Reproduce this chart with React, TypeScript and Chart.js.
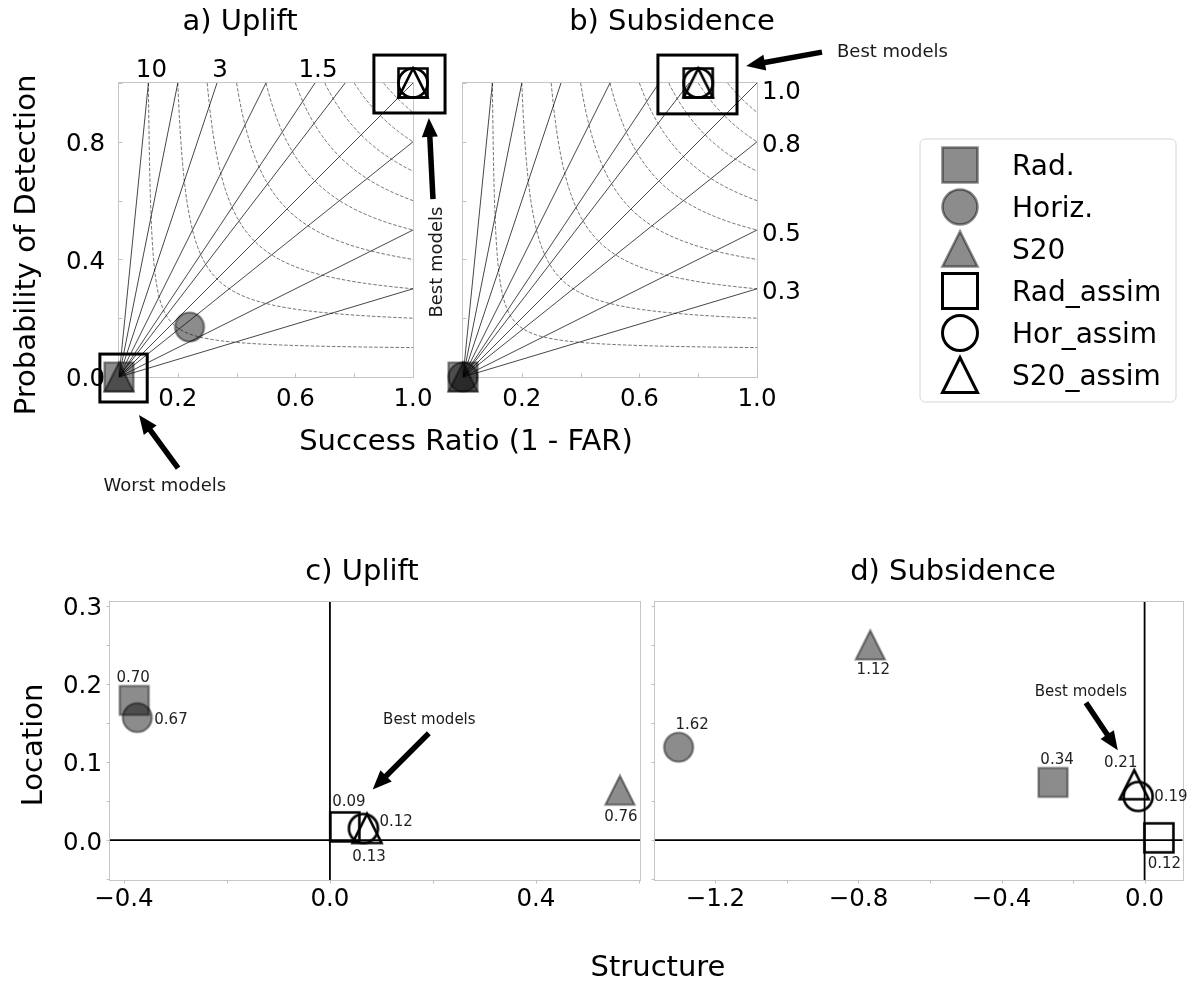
import React, { useEffect, useRef } from 'react';
import { Chart, registerables } from 'chart.js';

Chart.register(...registerables);

const FONT = '"DejaVu Sans", "Liberation Sans", Arial, sans-serif';
const PAGE_W = 1198;
const PAGE_H = 983;

// ---------------- data ----------------
const seriesNames = ['Rad.', 'Horiz.', 'S20', 'Rad_assim', 'Hor_assim', 'S20_assim'];

const biasLevels = [0.3, 0.5, 0.8, 1.0, 1.3, 1.5, 2.0, 3.0, 5.0, 10.0];
const csiLevels = [0.1, 0.2, 0.3, 0.4, 0.5, 0.6, 0.7, 0.8, 0.9];
const biasTopLabels = [10, 3, 1.5];
const biasTopLabelText = ['10', '3', '1.5'];
const biasRightLabels = [1.0, 0.8, 0.5, 0.3];
const biasRightLabelText = ['1.0', '0.8', '0.5', '0.3'];

// a) Uplift performance diagram (success ratio, probability of detection)
const upliftSR = [0.0, 0.24, 0.0, 1.0, 1.0, 1.0];
const upliftPOD = [0.0, 0.17, 0.0, 1.0, 1.0, 1.0];
// b) Subsidence performance diagram
const subsSR = [0.0, 0.0, 0.0, 0.8, 0.8, 0.8];
const subsPOD = [0.0, 0.0, 0.0, 1.0, 1.0, 1.0];

// c) Uplift structure / location
const upliftStructure = [-0.38, -0.374, 0.563, 0.029, 0.065, 0.072];
const upliftLocation = [0.179, 0.157, 0.064, 0.017, 0.015, 0.015];
const upliftScores = ['0.70', '0.67', '0.76', '0.09', '0.12', '0.13'];
// d) Subsidence structure / location
const subsStructure = [-0.256, -1.303, -0.767, 0.04, -0.018, -0.029];
const subsLocation = [0.074, 0.119, 0.25, 0.003, 0.056, 0.071];
const subsScores = ['0.34', '1.62', '1.12', '0.12', '0.19', '0.21'];

// ticks
const perfTicks = [0, 0.2, 0.4, 0.6, 0.8, 1.0];
const perfXLabeled = [0.2, 0.6, 1.0];
const perfYLabeled = [0.0, 0.4, 0.8];
const locTicks = [-0.05, 0, 0.05, 0.1, 0.15, 0.2, 0.25, 0.3];
const locLabeled = [0, 0.1, 0.2, 0.3];
const structTicksC = [-0.4, -0.2, 0, 0.2, 0.4, 0.6];
const structLabeledC = [-0.4, 0, 0.4];
const structTicksD = [-1.2, -1.0, -0.8, -0.6, -0.4, -0.2, 0];
const structLabeledD = [-1.2, -0.8, -0.4, 0];

// ---------------- styles ----------------
const markerShapes = ['square', 'circle', 'triangle', 'square', 'circle', 'triangle'];
const markerFilled = [true, true, true, false, false, false];
const GRAY_FILL = 'rgba(0,0,0,0.45)';
const GRAY_EDGE = 'rgba(0,0,0,0.45)';
const upliftLabelOffsets: [number, number, CanvasTextAlign][] = [
  [-1, -24, 'center'], [17, 1, 'left'], [1, 25, 'center'],
  [4, -26, 'center'], [16, -8, 'left'], [2, 27, 'center'],
];
const subsLabelOffsets: [number, number, CanvasTextAlign][] = [
  [4, -23.5, 'center'], [13.5, -24, 'center'], [3, 23.5, 'center'],
  [5.5, 24.5, 'center'], [16, -1, 'left'], [-13.5, -23, 'center'],
];
const rightLabelDy = [7, 1, 2, 1];

const YW = 60;
const XH = 40;
const TICK_FONT = 24.5;

function fmt(v: number) {
  return (v < -1e-9 ? '\u2212' : '') + Math.abs(v).toFixed(1);
}

function makeMarker(shape: string, filled: boolean, size: number, lw: number) {
  const pad = Math.ceil(lw * 3) + 2;
  let dim = Math.ceil(size) + pad * 2;
  if (dim % 2) dim += 1;
  const c = document.createElement('canvas');
  c.width = dim;
  c.height = dim;
  const g = c.getContext('2d')!;
  const m = dim / 2;
  const h = size / 2;
  g.beginPath();
  if (shape === 'square') g.rect(m - h, m - h, size, size);
  else if (shape === 'circle') g.arc(m, m, h, 0, Math.PI * 2);
  else {
    g.moveTo(m, m - h);
    g.lineTo(m - h, m + h);
    g.lineTo(m + h, m + h);
    g.closePath();
  }
  g.lineJoin = 'miter';
  g.miterLimit = 10;
  g.lineWidth = lw;
  if (filled) {
    g.fillStyle = GRAY_FILL;
    g.fill();
    g.strokeStyle = GRAY_EDGE;
    g.stroke();
  } else {
    g.strokeStyle = '#000';
    g.stroke();
  }
  return c;
}

function markerDatasets(xs: number[], ys: number[]) {
  return seriesNames.map((name, i) => ({
    label: name,
    data: [{ x: xs[i], y: ys[i] }],
    pointStyle: makeMarker(markerShapes[i], markerFilled[i], 29, markerFilled[i] ? 2.2 : 2.6),
    pointRadius: 14.5,
    pointHoverRadius: 14.5,
    showLine: false,
    clip: false as any,
  }));
}

function biasDatasets() {
  return biasLevels.map((b) => ({
    label: 'bias ' + b,
    data: [
      { x: 0, y: 0 },
      { x: b > 1 ? 1 / b : 1, y: b > 1 ? 1 : b },
    ],
    showLine: true,
    borderColor: 'rgba(0,0,0,0.72)',
    borderWidth: 1,
    pointRadius: 0,
    pointHoverRadius: 0,
  }));
}

function csiCurve(c: number) {
  const p = (2 * c) / (1 + c);
  const half: { x: number; y: number }[] = [];
  const N = 60;
  for (let k = 0; k <= N; k++) {
    const sr = p + ((1 - p) * k) / N;
    const pod = 1 / (1 / c + 1 - 1 / sr);
    half.push({ x: sr, y: pod });
  }
  const mirrored = half.map((m) => ({ x: m.y, y: m.x })).reverse();
  return [...mirrored, ...half.slice(1)];
}

function csiDatasets() {
  return csiLevels.map((c) => ({
    label: 'csi ' + c,
    data: csiCurve(c),
    showLine: true,
    borderColor: 'rgba(0,0,0,0.62)',
    borderWidth: 0.9,
    borderDash: [3.5, 1.8],
    pointRadius: 0,
    pointHoverRadius: 0,
  }));
}

function axis(min: number, max: number, ticks: number[], labeled: number[], pad: number, isX: boolean) {
  return {
    type: 'linear' as const,
    min,
    max,
    position: isX ? 'bottom' : 'left',
    afterBuildTicks: (s: any) => {
      s.ticks = ticks.map((v) => ({ value: v }));
    },
    afterFit: (s: any) => {
      if (isX) s.height = XH;
      else s.width = YW;
    },
    ticks: {
      autoSkip: false,
      maxRotation: 0,
      minRotation: 0,
      padding: pad,
      labelOffset: isX ? 0 : 3,
      color: '#000',
      font: { family: FONT, size: TICK_FONT, lineHeight: 1 },
      callback: (v: any) => (labeled.some((l) => Math.abs(l - Number(v)) < 1e-9) ? fmt(Number(v)) : ''),
    },
    grid: { display: false, drawTicks: false },
    border: { display: false },
  };
}

function txt(
  ctx: CanvasRenderingContext2D, s: string, x: number, y: number, size: number,
  align: CanvasTextAlign = 'center', rot = 0, color = '#000',
) {
  ctx.save();
  ctx.translate(x, y);
  if (rot) ctx.rotate(rot);
  ctx.font = `${size}px ${FONT}`;
  ctx.fillStyle = color;
  ctx.textAlign = align;
  ctx.textBaseline = 'middle';
  ctx.fillText(s, 0, size * 0.1);
  ctx.restore();
}

function box(ctx: CanvasRenderingContext2D, x1: number, y1: number, x2: number, y2: number) {
  ctx.save();
  ctx.strokeStyle = '#000';
  ctx.lineWidth = 3;
  ctx.lineJoin = 'miter';
  ctx.strokeRect(Math.min(x1, x2), Math.min(y1, y2), Math.abs(x2 - x1), Math.abs(y2 - y1));
  ctx.restore();
}

function arrow(ctx: CanvasRenderingContext2D, x1: number, y1: number, x2: number, y2: number, shaftW = 5.5, headW = 16, headL = 19) {
  const dx = x2 - x1, dy = y2 - y1;
  const len = Math.hypot(dx, dy);
  const ux = dx / len, uy = dy / len;
  const nx = -uy, ny = ux;
  const bx = x2 - ux * headL, by = y2 - uy * headL;
  ctx.save();
  ctx.beginPath();
  ctx.moveTo(x1 + (nx * shaftW) / 2, y1 + (ny * shaftW) / 2);
  ctx.lineTo(bx + (nx * shaftW) / 2, by + (ny * shaftW) / 2);
  ctx.lineTo(bx + (nx * headW) / 2, by + (ny * headW) / 2);
  ctx.lineTo(x2, y2);
  ctx.lineTo(bx - (nx * headW) / 2, by - (ny * headW) / 2);
  ctx.lineTo(bx - (nx * shaftW) / 2, by - (ny * shaftW) / 2);
  ctx.lineTo(x1 - (nx * shaftW) / 2, y1 - (ny * shaftW) / 2);
  ctx.closePath();
  ctx.fillStyle = '#000';
  ctx.fill();
  ctx.restore();
}

function frameAndTicks(chart: any, inward: boolean) {
  const { ctx, chartArea: a, scales } = chart;
  const x = scales.x, y = scales.y;
  ctx.save();
  ctx.strokeStyle = '#c6c6c6';
  ctx.lineWidth = 1;
  ctx.strokeRect(Math.round(a.left) - 0.5, Math.round(a.top) - 0.5, Math.round(a.width) + 1, Math.round(a.height) + 1);
  const len = 3.5;
  ctx.strokeStyle = '#c0c0c0';
  x.ticks.forEach((t: any) => {
    const px = Math.round(x.getPixelForValue(t.value)) + 0.5;
    ctx.beginPath();
    ctx.moveTo(px, a.bottom);
    ctx.lineTo(px, inward ? a.bottom - len : a.bottom + len);
    ctx.stroke();
  });
  y.ticks.forEach((t: any) => {
    const py = Math.round(y.getPixelForValue(t.value)) + 0.5;
    ctx.beginPath();
    ctx.moveTo(a.left, py);
    ctx.lineTo(inward ? a.left + len : a.left - len, py);
    ctx.stroke();
  });
  ctx.restore();
}

function zeroLines(chart: any) {
  const { ctx, chartArea: a, scales } = chart;
  const X0 = scales.x.getPixelForValue(0);
  const Y0 = scales.y.getPixelForValue(0);
  ctx.save();
  ctx.strokeStyle = '#000';
  ctx.lineWidth = 1.8;
  ctx.beginPath();
  ctx.moveTo(a.left, Y0);
  ctx.lineTo(a.right, Y0);
  ctx.moveTo(X0, a.top);
  ctx.lineTo(X0, a.bottom);
  ctx.stroke();
  ctx.restore();
}

function drawLegend(ctx: CanvasRenderingContext2D) {
  const L = 920, T = 139, R = 1176, B = 402, r = 5;
  ctx.save();
  ctx.beginPath();
  ctx.moveTo(L + r, T);
  ctx.lineTo(R - r, T);
  ctx.arcTo(R, T, R, T + r, r);
  ctx.lineTo(R, B - r);
  ctx.arcTo(R, B, R - r, B, r);
  ctx.lineTo(L + r, B);
  ctx.arcTo(L, B, L, B - r, r);
  ctx.lineTo(L, T + r);
  ctx.arcTo(L, T, L + r, T, r);
  ctx.closePath();
  ctx.fillStyle = 'rgba(255,255,255,0.8)';
  ctx.fill();
  ctx.strokeStyle = '#d6d6d6';
  ctx.lineWidth = 1;
  ctx.stroke();
  ctx.restore();
  seriesNames.forEach((name, i) => {
    const cy = 165 + i * 42;
    const m = makeMarker(markerShapes[i], markerFilled[i], 35, markerFilled[i] ? 2.6 : 3);
    ctx.drawImage(m, 960 - m.width / 2, cy - m.height / 2);
    txt(ctx, name, 1012, cy, 28, 'left');
  });
}

function padFor(area: { left: number; top: number; right: number; bottom: number }) {
  return {
    left: area.left - YW,
    top: area.top,
    right: PAGE_W - area.right,
    bottom: PAGE_H - area.bottom - XH,
  };
}

function baseOptions(area: any, scales: any) {
  return {
    animation: false as const,
    responsive: false,
    devicePixelRatio: 1,
    events: [] as any[],
    layout: { padding: padFor(area) },
    plugins: { legend: { display: false }, tooltip: { enabled: false }, title: { display: false } },
    scales,
  };
}

function configA(): any {
  const area = { left: 119, top: 83, right: 413, bottom: 377 };
  return {
    type: 'scatter',
    data: { datasets: [...markerDatasets(upliftSR, upliftPOD), ...biasDatasets(), ...csiDatasets()] },
    options: baseOptions(area, {
      x: axis(0, 1, perfTicks, perfXLabeled, 10, true),
      y: axis(0, 1, perfTicks, perfYLabeled, 14, false),
    }),
    plugins: [
      {
        id: 'panelA',
        beforeDatasetsDraw: (chart: any) => frameAndTicks(chart, true),
        afterDraw: (chart: any) => {
          const { ctx, scales } = chart;
          const X = (v: number) => scales.x.getPixelForValue(v);
          const Y = (v: number) => scales.y.getPixelForValue(v);
          box(ctx, X(-0.065), Y(0.078), X(0.096), Y(-0.085));
          box(ctx, X(0.867), Y(1.095), X(1.109), Y(0.898));
          arrow(ctx, X(1.068), Y(0.605), X(1.054), Y(0.881));
          arrow(ctx, X(0.201), Y(-0.31), X(0.068), Y(-0.129));
          txt(ctx, 'Best models', X(1.078), Y(0.391), 18, 'center', -Math.PI / 2, '#1a1a1a');
          txt(ctx, 'Worst models', X(0.156), Y(-0.367), 18, 'center', 0, '#1a1a1a');
          biasTopLabels.forEach((b, i) => txt(ctx, biasTopLabelText[i], X(1 / b) + 3, Y(1.051), TICK_FONT));
          txt(ctx, 'a) Uplift', 240, 20, 29);
          txt(ctx, 'Probability of Detection', 25, 245, 29, 'center', -Math.PI / 2);
          txt(ctx, 'Success Ratio (1 - FAR)', 466, 440, 29);
        },
      },
    ],
  };
}

function configB(): any {
  const area = { left: 463, top: 83, right: 757, bottom: 377 };
  return {
    type: 'scatter',
    data: { datasets: [...markerDatasets(subsSR, subsPOD), ...biasDatasets(), ...csiDatasets()] },
    options: baseOptions(area, {
      x: axis(0, 1, perfTicks, perfXLabeled, 10, true),
      y: axis(0, 1, perfTicks, [], 14, false),
    }),
    plugins: [
      {
        id: 'panelB',
        beforeDatasetsDraw: (chart: any) => frameAndTicks(chart, true),
        afterDraw: (chart: any) => {
          const { ctx, scales } = chart;
          const X = (v: number) => scales.x.getPixelForValue(v);
          const Y = (v: number) => scales.y.getPixelForValue(v);
          box(ctx, X(0.663), Y(1.095), X(0.932), Y(0.895));
          arrow(ctx, X(1.221), Y(1.105), X(0.963), Y(1.058));
          txt(ctx, 'Best models', X(1.272), Y(1.109), 18, 'left', 0, '#1a1a1a');
          biasRightLabels.forEach((b, i) => txt(ctx, biasRightLabelText[i], X(1.017), Y(b) + rightLabelDy[i], TICK_FONT, 'left'));
          txt(ctx, 'b) Subsidence', 672, 20, 29);
          drawLegend(ctx);
        },
      },
    ],
  };
}

function valueLabels(chart: any, xs: number[], ys: number[], labels: string[], offsets: [number, number, CanvasTextAlign][]) {
  const { ctx, scales } = chart;
  labels.forEach((s, i) => {
    const px = scales.x.getPixelForValue(xs[i]) + offsets[i][0];
    const py = scales.y.getPixelForValue(ys[i]) + offsets[i][1];
    txt(ctx, s, px, py, 15, offsets[i][2], 0, '#222');
  });
}

function configC(): any {
  const area = { left: 110, top: 602, right: 640, bottom: 880 };
  return {
    type: 'scatter',
    data: { datasets: markerDatasets(upliftStructure, upliftLocation) },
    options: baseOptions(area, {
      x: axis(-0.427, 0.602, structTicksC, structLabeledC, 7, true),
      y: axis(-0.051, 0.305, locTicks, locLabeled, 8, false),
    }),
    plugins: [
      {
        id: 'panelC',
        beforeDatasetsDraw: (chart: any) => {
          frameAndTicks(chart, false);
          zeroLines(chart);
        },
        afterDraw: (chart: any) => {
          const { ctx, scales } = chart;
          const X = (v: number) => scales.x.getPixelForValue(v);
          const Y = (v: number) => scales.y.getPixelForValue(v);
          valueLabels(chart, upliftStructure, upliftLocation, upliftScores, upliftLabelOffsets);
          arrow(ctx, X(0.192), Y(0.137), X(0.083), Y(0.065));
          txt(ctx, 'Best models', X(0.193), Y(0.156), 15, 'center', 0, '#1a1a1a');
          txt(ctx, 'c) Uplift', 362, 570, 29);
          txt(ctx, 'Location', 32, 745, 29, 'center', -Math.PI / 2);
          txt(ctx, 'Structure', 658, 966, 29);
        },
      },
    ],
  };
}

function configD(): any {
  const area = { left: 655, top: 602, right: 1186, bottom: 880 };
  return {
    type: 'scatter',
    data: { datasets: markerDatasets(subsStructure, subsLocation) },
    options: baseOptions(area, {
      x: axis(-1.369, 0.106, structTicksD, structLabeledD, 7, true),
      y: axis(-0.051, 0.305, locTicks, [], 8, false),
    }),
    plugins: [
      {
        id: 'panelD',
        beforeDatasetsDraw: (chart: any) => {
          frameAndTicks(chart, false);
          zeroLines(chart);
        },
        afterDraw: (chart: any) => {
          const { ctx, scales } = chart;
          const X = (v: number) => scales.x.getPixelForValue(v);
          const Y = (v: number) => scales.y.getPixelForValue(v);
          valueLabels(chart, subsStructure, subsLocation, subsScores, subsLabelOffsets);
          arrow(ctx, X(-0.164), Y(0.176), X(-0.075), Y(0.115));
          txt(ctx, 'Best models', X(-0.178), Y(0.192), 15, 'center', 0, '#1a1a1a');
          txt(ctx, 'd) Subsidence', 953, 570, 29);
        },
      },
    ],
  };
}

export default function App() {
  const r1 = useRef<HTMLCanvasElement>(null);
  const r2 = useRef<HTMLCanvasElement>(null);
  const r3 = useRef<HTMLCanvasElement>(null);
  const r4 = useRef<HTMLCanvasElement>(null);
  const refs = [r1, r2, r3, r4];

  useEffect(() => {
    Chart.defaults.font.family = FONT;
    const builders = [configA, configB, configC, configD];
    const charts = builders.map((b, i) => new Chart(refs[i].current as HTMLCanvasElement, b()));
    return () => charts.forEach((c) => c.destroy());
  }, []);

  return (
    <div style={{ position: 'fixed', left: 0, top: 0, width: PAGE_W, height: PAGE_H, background: '#fff' }}>
      {refs.map((r, i) => (
        <canvas
          key={i}
          ref={r}
          width={PAGE_W}
          height={PAGE_H}
          style={{ position: 'absolute', left: 0, top: 0, width: PAGE_W, height: PAGE_H }}
        />
      ))}
    </div>
  );
}
